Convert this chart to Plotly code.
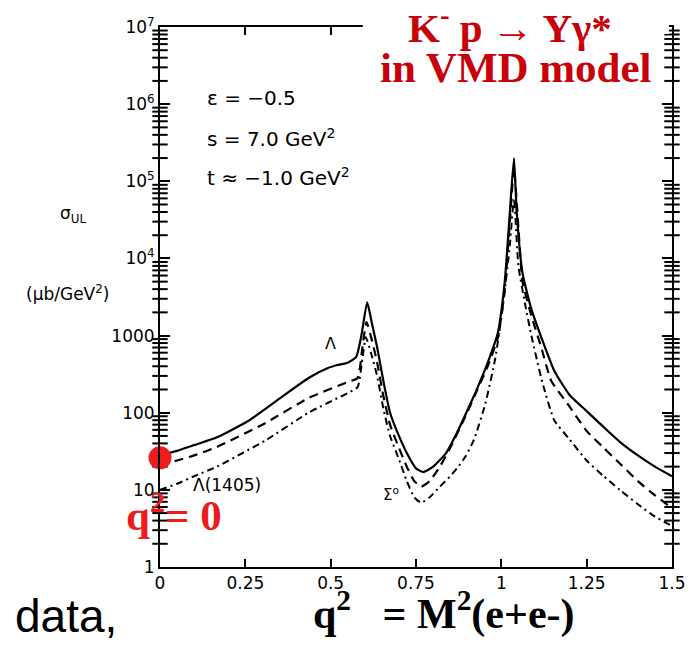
import plotly.graph_objects as go

# ---------------- data ----------------
solid_x = [0.0, 0.05, 0.1, 0.167, 0.262, 0.357, 0.435, 0.492, 0.52, 0.55, 0.575, 0.59, 0.607, 0.62, 0.636, 0.655,
           0.674, 0.7, 0.723, 0.75, 0.772, 0.8, 0.838, 0.87, 0.895, 0.93, 0.962, 0.99, 1.01, 1.025, 1.037,
           1.045, 1.062, 1.088, 1.117, 1.155, 1.2, 1.25, 1.3, 1.347, 1.4, 1.45, 1.5]
solid_y = [28, 32, 38, 48, 80, 160, 282, 380, 415, 445, 530, 1000, 2700, 1500, 710, 250,
           100, 50, 30, 19, 17, 20, 30, 55, 95, 210, 470, 1100, 5000, 40000, 200000,
           40000, 6500, 2200, 950, 350, 170, 105, 65, 42, 28, 20, 15]

dash_x = [0.0, 0.05, 0.1, 0.167, 0.31, 0.435, 0.55, 0.579, 0.593, 0.605, 0.62, 0.636, 0.655, 0.674, 0.7,
          0.723, 0.745, 0.765, 0.79, 0.82, 0.85, 0.895, 0.93, 0.962, 0.99, 1.01, 1.025, 1.037, 1.05, 1.062,
          1.088, 1.117, 1.146, 1.2, 1.25, 1.3, 1.347, 1.4, 1.45, 1.5]
dash_y = [21, 24, 28, 36, 74, 155, 250, 282, 700, 1500, 900, 450, 160, 70, 35,
          20, 13, 11, 13, 20, 35, 90, 200, 420, 950, 4000, 30000, 150000, 25000, 5000,
          1800, 700, 260, 120, 58, 35, 22, 13, 8.5, 5.8]

dot_x = [0.0, 0.05, 0.1, 0.167, 0.31, 0.435, 0.55, 0.579, 0.593, 0.603, 0.618, 0.636, 0.655, 0.674, 0.7,
         0.723, 0.745, 0.765, 0.79, 0.82, 0.85, 0.87, 0.895, 0.92, 0.953, 0.982, 1.005, 1.025, 1.037,
         1.05, 1.07, 1.088, 1.12, 1.155, 1.2, 1.25, 1.3, 1.347, 1.4, 1.45, 1.5]
dot_y = [10, 12, 15, 20, 44, 100, 180, 215, 500, 950, 600, 300, 110, 50, 25,
         13, 8, 6.8, 8, 11, 15, 19, 27, 45, 130, 500, 2500, 15000, 60000,
         8000, 2500, 1000, 250, 80, 45, 24, 15, 10, 6.5, 4.5, 3.4]

point_x = [0.0]
point_y = [26]

ytick_vals = [1, 10, 100, 1000, 1e4, 1e5, 1e6, 1e7]
ytick_text = ["1", "10", "100", "1000", "10<sup>4</sup>", "10<sup>5</sup>", "10<sup>6</sup>", "10<sup>7</sup>"]
xtick_vals = [0, 0.25, 0.5, 0.75, 1, 1.25, 1.5]
xtick_text = ["0", "0.25", "0.5", "0.75", "1", "1.25", "1.5"]
minor_vals = [m * 10 ** k for k in range(0, 7) for m in range(2, 10)]
x_range = [0, 1.5]

# ---------------- layout geometry ----------------
W, H = 698, 653
L, R, T, B = 160, 18, 27, 86
PW, PH = W - L - R, H - T - B


def px(x):
    return (x - L) / PW


def py(y):
    return (H - B - y) / PH


fig = go.Figure()
fig.add_trace(go.Scatter(x=solid_x, y=solid_y, mode="lines", line_shape="spline",
                         line=dict(color="black", width=2.2, dash="solid", smoothing=0.5), showlegend=False))
fig.add_trace(go.Scatter(x=dash_x, y=dash_y, mode="lines", line_shape="spline",
                         line=dict(color="black", width=2.2, dash="9px,6px", smoothing=0.5), showlegend=False))
fig.add_trace(go.Scatter(x=dot_x, y=dot_y, mode="lines", line_shape="spline",
                         line=dict(color="black", width=2, dash="7px,4px,2px,4px", smoothing=0.5), showlegend=False))
# minor log ticks on the left and right frame
fig.add_trace(go.Scatter(x=[x_range[0]] * len(minor_vals) + [x_range[1]] * len(minor_vals),
                         y=minor_vals + minor_vals, mode="markers", cliponaxis=False,
                         marker=dict(symbol="line-ew", size=11, color="black",
                                     line=dict(color="black", width=2)),
                         hoverinfo="skip", showlegend=False))
fig.add_trace(go.Scatter(x=point_x, y=point_y, mode="markers", cliponaxis=False,
                         marker=dict(color="#ee1c1c", size=23), showlegend=False))

annos = []


def add(text, x, y, size, family="DejaVu Sans", color="black", xanchor="left", bold=False):
    annos.append(dict(text=("<b>%s</b>" % text) if bold else text, x=px(x), y=py(y), xref="paper", yref="paper",
                      xanchor=xanchor, yanchor="middle", showarrow=False,
                      font=dict(family=family, size=size, color=color)))


add("ε = −0.5", 206, 98, 20)
add("s = 7.0 GeV<sup>2</sup>", 206, 138, 20)
add("t ≈ −1.0 GeV<sup>2</sup>", 206, 177, 20)
add("σ<sub>UL</sub>", 56, 214, 17)
add("(μb/GeV<sup>2</sup>)", 22, 293, 17)
add("Λ", 333, 343, 16, xanchor="center")
add("Λ(1405)", 191, 485, 17)
add("Σ<sup>o</sup>", 384, 494, 15)

serif = "Liberation Serif"
add("K<sup>-</sup> p → Yγ*", 515, 25, 41, family=serif, color="#c8000a", xanchor="center", bold=True)
add("in VMD model", 522, 67, 43, family=serif, color="#c8000a", xanchor="center", bold=True)
add("q<sup>2</sup>= 0", 174, 512, 43, family=serif, color="#ee1c1c", xanchor="center", bold=True)
add("data,", 11, 616, 46, family="Liberation Sans", color="black")
add("q<sup>2</sup>&nbsp;&nbsp; = M<sup>2</sup>(e+e-)", 448, 611, 42, family=serif, color="black",
    xanchor="center", bold=True)

axis_font = dict(family="DejaVu Sans", size=17, color="black")

fig.update_layout(
    width=W, height=H,
    margin=dict(l=L, r=R, t=T, b=B),
    paper_bgcolor="white", plot_bgcolor="white",
    annotations=annos,
    shapes=[dict(type="rect", xref="paper", yref="paper", x0=px(366), x1=px(677), y0=py(34), y1=py(14),
                 fillcolor="white", line=dict(width=0), layer="above")],
    xaxis=dict(range=x_range, tickmode="array", tickvals=xtick_vals, ticktext=xtick_text,
               ticks="inside", ticklen=8, tickwidth=2, tickcolor="black",
               showline=True, linewidth=2, linecolor="black", mirror="ticks",
               showgrid=False, zeroline=False, tickfont=axis_font),
    yaxis=dict(type="log", range=[0, 7], tickmode="array", tickvals=ytick_vals, ticktext=ytick_text,
               ticks="inside", ticklen=10, tickwidth=2, tickcolor="black",
               showline=True, linewidth=2, linecolor="black", mirror="ticks",
               showgrid=False, zeroline=False, tickfont=axis_font),
)

fig.write_html("out.html")
